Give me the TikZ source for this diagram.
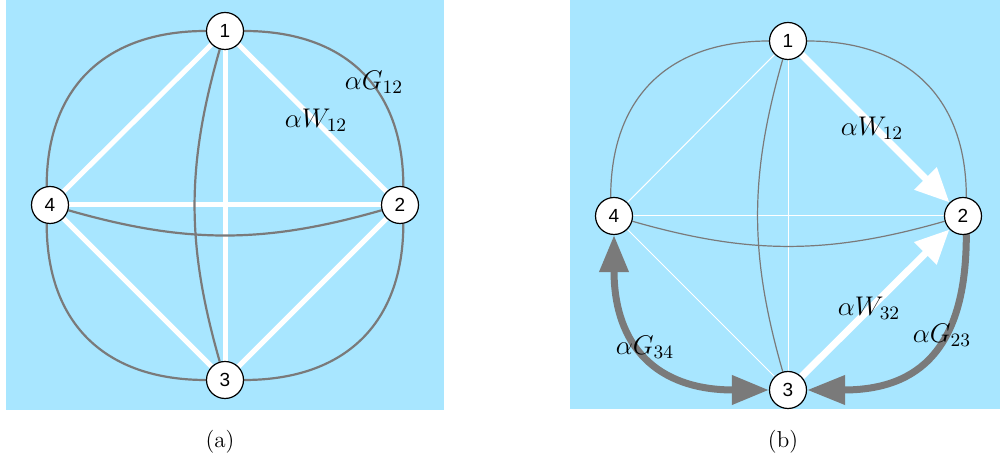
\documentclass[tikz,border=0pt]{standalone}
\usepackage{fix-cm}
\usepackage{fontspec}
\newfontfamily\nodefont{Liberation Sans}
\usetikzlibrary{arrows.meta}
\definecolor{bgblue}{RGB}{168,230,255}
\definecolor{edgegray}{RGB}{122,122,122}
\pgfdeclarelayer{bglayer}
\pgfdeclarelayer{edgelayer}
\pgfsetlayers{bglayer,edgelayer,main}
\begin{document}
\begin{tikzpicture}[x=0.5pt,y=0.5pt,
  vtx/.style={circle,draw=black,fill=white,line width=0.6pt,minimum size=18.5pt,inner sep=0pt,font=\nodefont\fontsize{9.5}{10}\selectfont},
  wthick/.style={white,line width=2.5pt},
  gthick/.style={edgegray,line width=1.1pt},
  wthin/.style={white,line width=0.5pt},
  gthin/.style={edgegray,line width=0.6pt},
  warrow/.style={white,line width=3.5pt,-{Triangle[length=17pt,width=15pt]}},
  garrow/.style={edgegray,line width=3.5pt,line cap=round},
  lbl/.style={font=\fontsize{13.5}{15}\selectfont,inner sep=0pt},
  captxt/.style={font=\fontsize{11.5}{13}\selectfont,inner sep=0pt}
]
\useasboundingbox (0,0) rectangle (1000,459);
\begin{pgfonlayer}{bglayer}
\fill[bgblue] (6,49) rectangle (444,459);
\fill[bgblue] (570,50) rectangle (1000,459);
\end{pgfonlayer}

% ---------- panel (a) ----------
\node[vtx] (a1) at (225,428) {1};
\node[vtx] (a2) at (400,254) {2};
\node[vtx] (a3) at (225,79) {3};
\node[vtx] (a4) at (50,254) {4};

\begin{pgfonlayer}{edgelayer}
\draw[wthick] (a1) -- (a2);
\draw[wthick] (a1) -- (a4);
\draw[wthick] (a1) -- (a3);
\draw[wthick] (a2) -- (a3);
\draw[wthick] (a3) -- (a4);
\draw[wthick] (a4) -- (a2);
\draw[gthick] (a1.east) to[out=0,in=90,looseness=1.15] (a2.80);
\draw[gthick] (a1.west) to[out=180,in=90,looseness=1.15] (a4.100);
\draw[gthick] (a4.260) to[out=-90,in=180,looseness=1.15] (a3.west);
\draw[gthick] (a3.east) to[out=0,in=-90,looseness=1.15] (a2.280);
\draw[gthick] (a1) to[bend right=16] (a3);
\draw[gthick] (a4) to[bend right=16] (a2);
\end{pgfonlayer}

\node[lbl] (lg12) at (374,377) {$\alpha G_{12}$};
\node[lbl] (lw12) at (316,339) {$\alpha W_{12}$};
\node[captxt] (capa) at (220,17) {(a)};

% ---------- panel (b) ----------
\node[vtx] (b1) at (788,418) {1};
\node[vtx] (b2) at (963,243) {2};
\node[vtx] (b3) at (788,69) {3};
\node[vtx] (b4) at (614,243) {4};

\begin{pgfonlayer}{edgelayer}
\draw[wthin] (b1) -- (b4);
\draw[wthin] (b1) -- (b3);
\draw[wthin] (b4) -- (b2);
\draw[wthin] (b4) -- (b3);
\draw[gthin] (b1.east) to[out=0,in=90,looseness=1.15] (b2.80);
\draw[gthin] (b1.west) to[out=180,in=90,looseness=1.15] (b4.100);
\draw[gthin] (b1) to[bend right=16] (b3);
\draw[gthin] (b4) to[bend right=16] (b2);
\draw[warrow] (b1) -- (b2);
\draw[warrow] (b3) -- (b2);
\draw[garrow,-{Triangle[length=19pt,width=14pt]}] (b2.280) to[out=-90,in=0,looseness=1.3] (b3.east);
\draw[garrow,{Triangle[length=18.5pt,width=14pt]}-{Triangle[length=18.5pt,width=14pt]}] (b4.south) to[out=-90,in=180,looseness=1.3] (b3.west);
\end{pgfonlayer}

\node[lbl] (bw12) at (872,331) {$\alpha W_{12}$};
\node[lbl] (bw32) at (869,151) {$\alpha W_{32}$};
\node[lbl] (bg23) at (942,124) {$\alpha G_{23}$};
\node[lbl] (bg34) at (645,112) {$\alpha G_{34}$};
\node[captxt] (capb) at (783,17) {(b)};
\end{tikzpicture}
\end{document}
